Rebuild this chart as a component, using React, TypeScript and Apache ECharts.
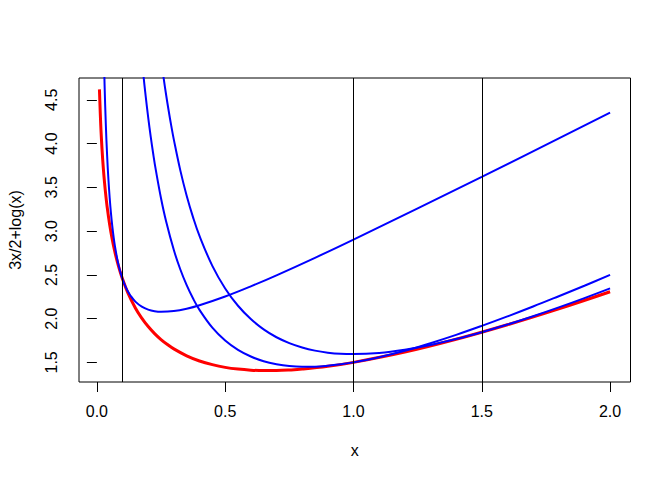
import React, { useEffect, useRef } from "react";
import * as echarts from "echarts";

const redX = [0.01, 0.015, 0.02, 0.025, 0.03, 0.035, 0.04, 0.05, 0.06, 0.07, 0.08, 0.09, 0.1, 0.12, 0.15, 0.175, 0.2, 0.225, 0.25, 0.275, 0.3, 0.35, 0.4, 0.45, 0.5, 0.55, 0.6, 0.65, 0.7, 0.75, 0.8, 0.9, 1.0, 1.2, 1.4, 1.6, 1.8, 2.0];
const redY = [4.62, 4.222, 3.942, 3.726, 3.552, 3.405, 3.279, 3.071, 2.903, 2.764, 2.646, 2.543, 2.453, 2.3, 2.122, 2.006, 1.909, 1.829, 1.761, 1.704, 1.654, 1.575, 1.516, 1.474, 1.443, 1.423, 1.411, 1.406, 1.407, 1.413, 1.423, 1.455, 1.5, 1.618, 1.764, 1.93, 2.112, 2.307];

// Blue curve touching at x = 0.1
const blueAX = [0.02, 0.025, 0.03, 0.035, 0.04, 0.045, 0.05, 0.055, 0.06, 0.065, 0.07, 0.08, 0.09, 0.1, 0.11, 0.12, 0.13, 0.15, 0.175, 0.2, 0.225, 0.25, 0.3, 0.35, 0.4, 0.5, 0.6, 0.7, 0.85, 1.0, 1.5, 2.0];
const blueAY = [6.333, 5.34, 4.681, 4.212, 3.863, 3.592, 3.378, 3.203, 3.059, 2.939, 2.836, 2.673, 2.549, 2.453, 2.377, 2.316, 2.267, 2.194, 2.137, 2.103, 2.085, 2.078, 2.086, 2.113, 2.153, 2.253, 2.369, 2.495, 2.695, 2.903, 3.619, 4.353];

// Blue curve touching at x = 1.0
const blueBX = [0.15, 0.16, 0.18, 0.19, 0.2, 0.21, 0.22, 0.23, 0.25, 0.27, 0.3, 0.325, 0.35, 0.375, 0.4, 0.45, 0.5, 0.55, 0.6, 0.65, 0.7, 0.75, 0.8, 0.85, 0.9, 0.95, 1.0, 1.1, 1.2, 1.3, 1.4, 1.5, 1.6, 1.7, 1.8, 1.9, 2.0];
const blueBY = [5.892, 5.49, 4.826, 4.548, 4.3, 4.077, 3.875, 3.693, 3.375, 3.109, 2.783, 2.564, 2.382, 2.229, 2.1, 1.897, 1.75, 1.643, 1.567, 1.513, 1.479, 1.458, 1.45, 1.451, 1.461, 1.478, 1.5, 1.559, 1.633, 1.719, 1.814, 1.917, 2.025, 2.138, 2.256, 2.376, 2.5];

// Blue curve touching at x = 1.5
const blueCX = [0.25, 0.26, 0.27, 0.28, 0.29, 0.3, 0.325, 0.35, 0.375, 0.4, 0.45, 0.5, 0.55, 0.6, 0.65, 0.7, 0.75, 0.8, 0.85, 0.9, 0.95, 1.0, 1.1, 1.2, 1.3, 1.4, 1.5, 1.6, 1.7, 1.8, 1.9, 2.0];
const blueCY = [4.97, 4.754, 4.555, 4.372, 4.202, 4.045, 3.697, 3.405, 3.157, 2.945, 2.603, 2.345, 2.147, 1.995, 1.877, 1.787, 1.72, 1.67, 1.634, 1.611, 1.598, 1.595, 1.608, 1.645, 1.698, 1.766, 1.845, 1.932, 2.027, 2.128, 2.234, 2.345];

const vLines = [0.1, 1.0, 1.5];
const xTicks = [0, 0.5, 1.0, 1.5, 2.0];
const yTicks = [1.5, 2.0, 2.5, 3.0, 3.5, 4.0, 4.5];

const xName = "x";
const yName = "3x/2+log(x)";

const zip = (xs: number[], ys: number[]) => xs.map((x, i) => [x, ys[i]]);

export default function App() {
  const ref = useRef<HTMLDivElement>(null);
  useEffect(() => {
    if (!ref.current) return;
    const chart = echarts.init(ref.current, null, { renderer: "svg" });
    const font = "'Liberation Sans', Arial, Helvetica, sans-serif";
    const axisCommon = {
      axisLine: { show: false },
      splitLine: { show: false },
      axisTick: { show: true, length: 10, lineStyle: { color: "#000", width: 1 } },
    };
    const curve = (xs: number[], ys: number[], color: string, width: number) => ({
      type: "line",
      data: zip(xs, ys),
      showSymbol: false,
      smooth: 0.4,
      clip: true,
      lineStyle: { color, width },
      silent: true,
    });
    chart.setOption({
      animation: false,
      backgroundColor: "#ffffff",
      grid: {
        left: 79,
        top: 78,
        width: 551.5,
        height: 304,
        show: true,
        borderColor: "#000",
        borderWidth: 1,
        backgroundColor: "transparent",
        containLabel: false,
        outerBoundsMode: "none",
      },
      xAxis: {
        type: "value",
        min: -0.0696,
        max: 2.0796,
        ...axisCommon,
        axisTick: { ...axisCommon.axisTick, customValues: xTicks },
        axisLabel: {
          customValues: xTicks,
          formatter: (v: number) => v.toFixed(1),
          color: "#000",
          fontSize: 16,
          fontFamily: font,
          margin: 21,
        },
        name: xName,
        nameLocation: "middle",
        nameGap: 60,
        nameTextStyle: { color: "#000", fontSize: 16, fontFamily: font },
      },
      yAxis: {
        type: "value",
        min: 1.2757,
        max: 4.7494,
        ...axisCommon,
        axisTick: { ...axisCommon.axisTick, customValues: yTicks },
        axisLabel: {
          customValues: yTicks,
          formatter: (v: number) => v.toFixed(1),
          color: "#000",
          fontSize: 16,
          fontFamily: font,
          margin: 20,
          rotate: 90,
        },
        name: yName,
        nameLocation: "middle",
        nameGap: 56,
        nameTextStyle: { color: "#000", fontSize: 16, fontFamily: font },
      },
      series: [
        {
          ...curve(redX, redY, "#ff0000", 3),
          markLine: {
            silent: true,
            symbol: ["none", "none"],
            label: { show: false },
            lineStyle: { color: "#000", width: 1, type: "solid" },
            data: vLines.map((v) => ({ xAxis: v })),
          },
        },
        curve(blueAX, blueAY, "#0000ff", 2),
        curve(blueBX, blueBY, "#0000ff", 2),
        curve(blueCX, blueCY, "#0000ff", 2),
      ],
    });
    return () => chart.dispose();
  }, []);
  return (
    <div
      ref={ref}
      style={{ position: "fixed", left: 0, top: 0, width: 672, height: 480, background: "#fff" }}
    />
  );
}
